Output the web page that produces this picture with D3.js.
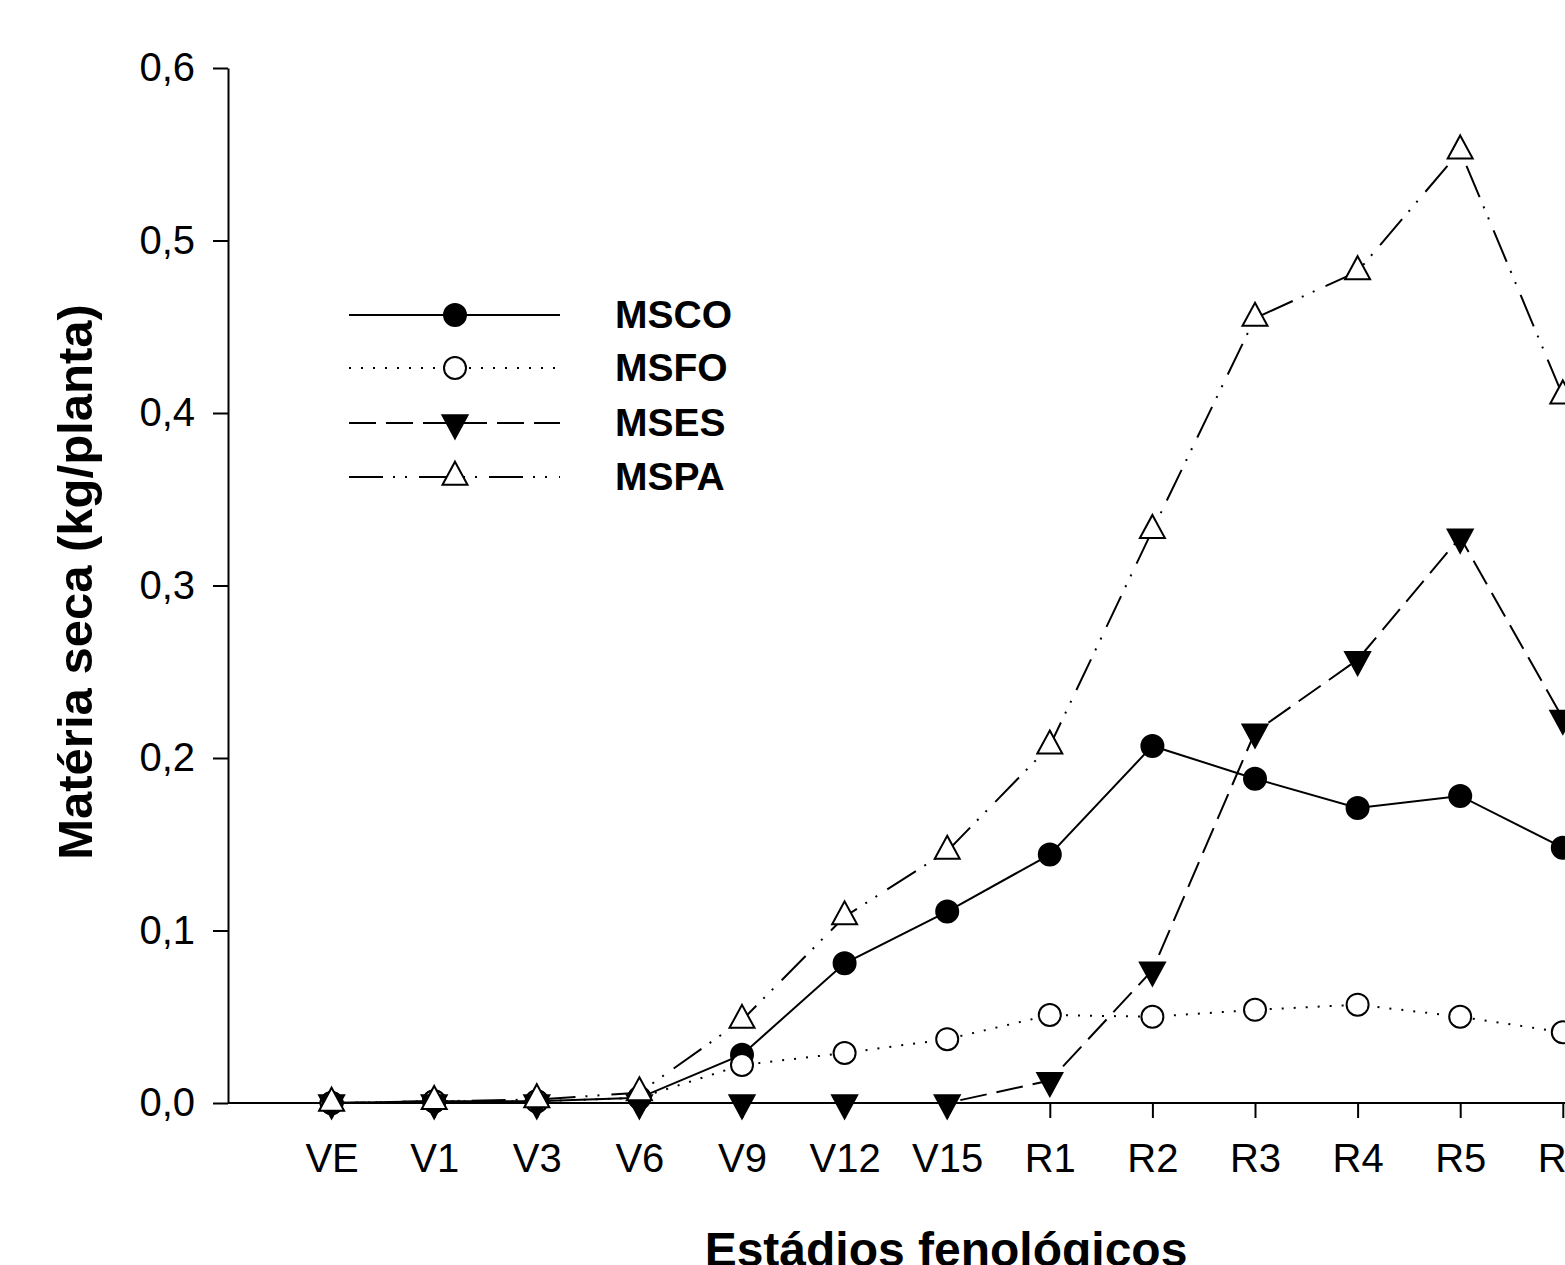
<!DOCTYPE html>
<html>
<head>
<meta charset="utf-8">
<script src="https://cdn.jsdelivr.net/npm/d3@7"></script>
<style>
	body { margin: 0; background: #fff; overflow: hidden; }
	svg { display: block; font-family: 'Liberation Sans', Arial, sans-serif; }
</style>
</head>
<body>
<script>
(function(document, window){
'use strict';

// estadios fenologicos
var stages = ['VE', 'V1', 'V3', 'V6', 'V9', 'V12', 'V15', 'R1', 'R2', 'R3', 'R4', 'R5', 'R6'];

// materia seca (kg/planta)
var msco = [0, 0.001, 0.001, 0.003, 0.028, 0.081, 0.111, 0.144, 0.207, 0.188, 0.171, 0.178, 0.148];
var msfo = [0, 0.001, 0.001, 0.003, 0.022, 0.029, 0.037, 0.051, 0.050, 0.054, 0.057, 0.050, 0.041];
var mses = [0, 0, 0, 0, 0, 0, 0, 0.013, 0.077, 0.215, 0.257, 0.328, 0.223];
var mspa = [0, 0.001, 0.002, 0.006, 0.048, 0.108, 0.146, 0.207, 0.332, 0.455, 0.482, 0.552, 0.410];

var yTicks = [0, 0.1, 0.2, 0.3, 0.4, 0.5, 0.6];

var seriesNames = ['MSCO', 'MSFO', 'MSES', 'MSPA'];

var width = 1565;
var height = 1265;

var svgContainer = d3.select('body').append('svg')
					.attr('width', width)
					.attr('height', height);

var xScale = d3.scalePoint()
				.domain(stages)
				.range([229, 229 + 14 * 102.6])
				.padding(1);

var yScale = d3.scaleLinear()
				.domain([0, 0.6])
				.range([1103, 68]);

var ptLocale = d3.formatLocale({decimal: ',', thousands: '.', grouping: [3], currency: ['R$', '']});
var fmt = ptLocale.format('.1f');

// marker shapes (triangles centred on centroid, like SigmaPlot)
var triW = 25, triH = 23;
var upTri = 'M0,' + (-2 * triH / 3) + 'L' + (triW / 2) + ',' + (triH / 3) + 'L' + (-triW / 2) + ',' + (triH / 3) + 'Z';
var downTri = 'M0,' + (2 * triH / 3) + 'L' + (triW / 2) + ',' + (-triH / 3) + 'L' + (-triW / 2) + ',' + (-triH / 3) + 'Z';
var circ = d3.symbol().type(d3.symbolCircle).size(Math.PI * 11 * 11)();

var styles = [
	{'dash': null, 'shape': circ, 'fill': '#000'},
	{'dash': '2,10', 'shape': circ, 'fill': '#fff'},
	{'dash': '27,10', 'shape': downTri, 'fill': '#000'},
	{'dash': '34,10,2,10,2,12', 'shape': upTri, 'fill': '#fff'}
];

var seriesData = [msco, msfo, mses, mspa];

// axes
var xAxis = d3.axisBottom(xScale).tickSize(15).tickSizeOuter(0).tickPadding(26);
var yAxis = d3.axisLeft(yScale).tickValues(yTicks).tickFormat(fmt).tickSize(15).tickSizeOuter(0).tickPadding(18);

var gx = svgContainer.append('g')
			.attr('transform', 'translate(0,' + yScale(0) + ')')
			.call(xAxis);
gx.select('.domain').attr('d', 'M228,0H' + (width + 10));

var gy = svgContainer.append('g')
			.attr('transform', 'translate(228,0)')
			.call(yAxis);

svgContainer.selectAll('.domain, .tick line')
			.attr('stroke', '#000')
			.attr('stroke-width', 2);
svgContainer.selectAll('.tick text')
			.attr('fill', '#000')
			.style('font-size', '40px');

// series
var line = d3.line()
			.x(function(d, i){ return xScale(stages[i]); })
			.y(function(d){ return yScale(d); });

seriesData.forEach(function(vals, k){
	var st = styles[k];
	var g = svgContainer.append('g').attr('class', 'series-' + seriesNames[k]);
	g.append('path')
		.datum(vals)
		.attr('d', line)
		.attr('fill', 'none')
		.attr('stroke', '#000')
		.attr('stroke-width', 2)
		.attr('stroke-dasharray', st.dash);
	g.selectAll('path.mark')
		.data(vals)
		.enter()
		.append('path')
		.attr('class', 'mark')
		.attr('d', st.shape)
		.attr('transform', function(d, i){ return 'translate(' + xScale(stages[i]) + ',' + yScale(d) + ')'; })
		.attr('fill', st.fill)
		.attr('stroke', '#000')
		.attr('stroke-width', 2);
});

// legend
var legendRows = [315, 368, 423, 477];
var legend = svgContainer.append('g');
seriesNames.forEach(function(name, k){
	var st = styles[k];
	var ly = legendRows[k];
	legend.append('line')
		.attr('x1', 349).attr('x2', 560)
		.attr('y1', ly).attr('y2', ly)
		.attr('stroke', '#000')
		.attr('stroke-width', 2)
		.attr('stroke-dasharray', st.dash);
	legend.append('path')
		.attr('d', st.shape)
		.attr('transform', 'translate(455,' + ly + ')')
		.attr('fill', st.fill)
		.attr('stroke', '#000')
		.attr('stroke-width', 2);
	legend.append('text')
		.attr('x', 615)
		.attr('y', ly + 13)
		.style('font-size', '39px')
		.style('font-weight', 'bold')
		.text(name);
});

// axis titles
svgContainer.append('text')
	.attr('x', 946)
	.attr('y', 1266)
	.attr('text-anchor', 'middle')
	.style('font-size', '48px')
	.style('font-weight', 'bold')
	.text('Estádios fenológicos');

svgContainer.append('text')
	.attr('transform', 'translate(92,582) rotate(-90)')
	.attr('text-anchor', 'middle')
	.style('font-size', '49px')
	.style('font-weight', 'bold')
	.text('Matéria seca (kg/planta)');

})(document, window);
</script>
</body>
</html>
